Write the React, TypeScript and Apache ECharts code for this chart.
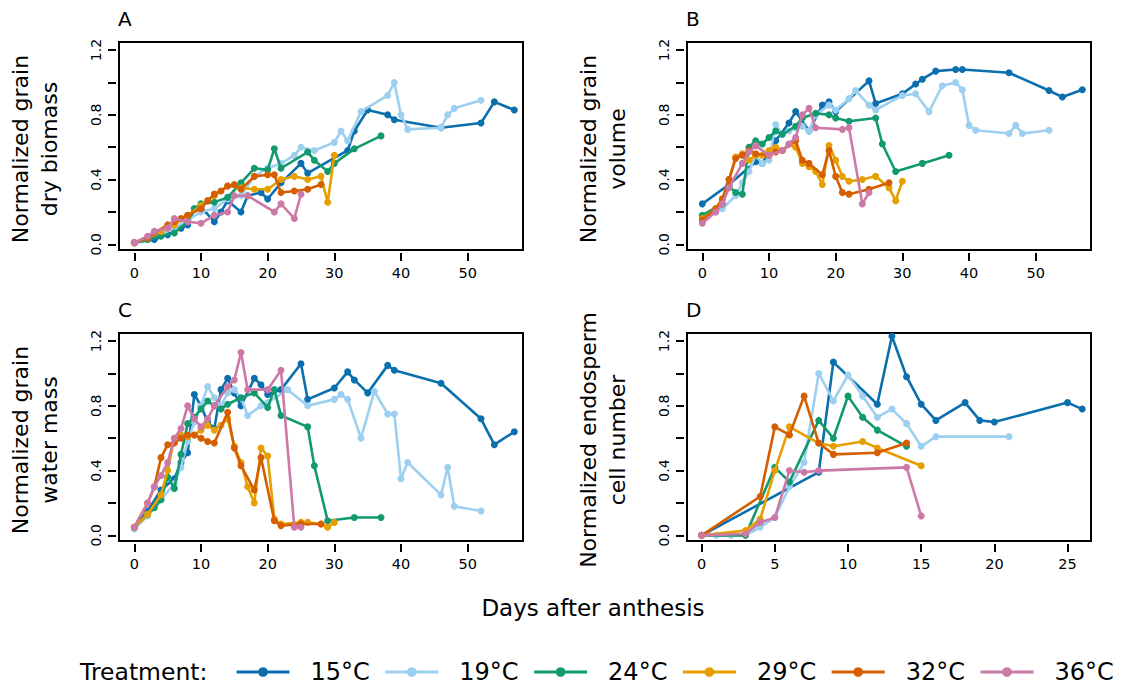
import React, { useEffect, useRef } from "react";
import * as echarts from "echarts";

const FONT = "DejaVu Sans";
const treatments = ["15°C", "19°C", "24°C", "29°C", "32°C", "36°C"];
const colors = ["#0B6FAE", "#9DCFF1", "#129A6E", "#E69F00", "#D55E00", "#CC79A7"];

const panelLetters = ["A", "B", "C", "D"];
const yTitles = [
  ["Normalized grain", "dry biomass"],
  ["Normalized grain", "volume"],
  ["Normalized grain", "water mass"],
  ["Normalized endosperm", "cell number"],
];
const xTitle = "Days after anthesis";
const legendTitle = "Treatment:";

const xTicksLong = [0, 10, 20, 30, 40, 50];
const xTicksShort = [0, 5, 10, 15, 20, 25];
const yTicks = [0, 0.2, 0.4, 0.6, 0.8, 1.0, 1.2];
const yLabels = [0, 0.4, 0.8, 1.2];

// Panel A: dry biomass
const a15 = [[0,0.01],[3,0.03],[5,0.06],[7,0.1],[8,0.12],[9,0.22],[10,0.23],[12,0.14],[13,0.2],[14,0.27],[16,0.2],[17,0.3],[19,0.32],[20,0.28],[22,0.38],[25,0.5],[26,0.44],[32,0.58],[33,0.7],[35,0.83],[38,0.8],[39,0.77],[46,0.72],[52,0.75],[54,0.88],[57,0.83]];
const a19 = [[0,0.01],[2,0.03],[4,0.06],[6,0.1],[8,0.15],[10,0.2],[12,0.22],[14,0.28],[16,0.3],[18,0.42],[20,0.47],[22,0.5],[24,0.55],[25,0.6],[27,0.58],[30,0.63],[31,0.7],[32,0.64],[34,0.82],[38,0.92],[39,1.0],[40,0.8],[41,0.71],[46,0.72],[47,0.8],[48,0.84],[52,0.89]];
const a24 = [[0,0.01],[2,0.03],[4,0.05],[6,0.07],[8,0.14],[9,0.22],[10,0.25],[12,0.26],[14,0.29],[16,0.38],[18,0.47],[20,0.46],[21,0.59],[22,0.47],[26,0.57],[27,0.52],[29,0.45],[30,0.5],[33,0.59],[37,0.67]];
const a29 = [[0,0.01],[2,0.04],[4,0.08],[6,0.12],[8,0.18],[10,0.24],[12,0.3],[14,0.36],[16,0.35],[18,0.34],[20,0.34],[22,0.4],[24,0.42],[26,0.4],[28,0.42],[29,0.26],[30,0.55]];
const a32 = [[0,0.01],[2,0.04],[3,0.07],[5,0.12],[6,0.14],[7,0.16],[8,0.18],[10,0.22],[11,0.27],[12,0.31],[13,0.33],[14,0.36],[15,0.37],[16,0.34],[18,0.42],[20,0.43],[21,0.43],[22,0.32],[24,0.33],[26,0.34],[28,0.37]];
const a36 = [[0,0.01],[2,0.05],[3,0.08],[5,0.1],[6,0.16],[8,0.14],[10,0.13],[12,0.18],[14,0.2],[15,0.3],[17,0.3],[21,0.2],[22,0.25],[24,0.16],[25,0.31]];

// Panel B: volume
const b15 = [[0,0.25],[4,0.37],[8,0.51],[9,0.5],[11,0.64],[13,0.75],[14,0.82],[16,0.7],[18,0.86],[19,0.88],[20,0.82],[25,1.01],[26,0.87],[30,0.93],[32,0.99],[33,1.02],[35,1.07],[38,1.08],[39,1.08],[46,1.06],[52,0.95],[54,0.91],[57,0.955]];
const b19 = [[0,0.17],[2,0.2],[3,0.22],[5,0.3],[6,0.38],[7,0.45],[8,0.55],[9,0.5],[10,0.52],[11,0.74],[12,0.68],[13,0.7],[14,0.72],[15,0.73],[16,0.7],[17,0.8],[19,0.86],[20,0.83],[22,0.9],[23,0.95],[25,0.86],[26,0.83],[30,0.92],[32,0.93],[34,0.82],[36,0.98],[38,1.0],[39,0.955],[40,0.735],[41,0.705],[46,0.685],[47,0.735],[48,0.685],[52,0.705]];
const b24 = [[0,0.18],[3,0.25],[4,0.36],[5,0.32],[6,0.31],[7,0.6],[8,0.64],[9,0.62],[10,0.66],[11,0.7],[12,0.68],[14,0.73],[15,0.78],[17,0.81],[19,0.8],[20,0.78],[22,0.76],[26,0.78],[27,0.62],[29,0.45],[33,0.5],[37,0.55]];
const b29 = [[0,0.16],[2,0.22],[3,0.28],[4,0.4],[5,0.54],[6,0.56],[7,0.52],[8,0.55],[9,0.55],[10,0.58],[11,0.6],[12,0.58],[13,0.62],[14,0.6],[15,0.5],[16,0.48],[17,0.45],[18,0.37],[19,0.61],[20,0.52],[21,0.42],[22,0.39],[24,0.4],[26,0.42],[28,0.35],[29,0.27],[30,0.39]];
const b32 = [[0,0.15],[2,0.22],[3,0.28],[4,0.4],[5,0.53],[6,0.55],[7,0.58],[8,0.56],[10,0.55],[11,0.57],[12,0.58],[14,0.64],[15,0.52],[16,0.5],[18,0.43],[19,0.58],[20,0.42],[21,0.32],[22,0.31],[25,0.34],[28,0.38]];
const b36 = [[0,0.13],[2,0.2],[3,0.25],[4,0.35],[6,0.5],[7,0.57],[8,0.61],[10,0.55],[12,0.58],[13,0.62],[14,0.66],[15,0.8],[16,0.84],[17,0.72],[21,0.71],[22,0.72],[24,0.25],[25,0.32]];

// Panel C: water mass
const c15 = [[0,0.05],[2,0.15],[4,0.28],[6,0.35],[7,0.45],[8,0.51],[9,0.87],[10,0.8],[11,0.7],[12,0.66],[13,0.9],[14,0.97],[15,0.88],[16,0.8],[18,0.97],[19,0.93],[20,0.87],[22,0.9],[25,1.06],[26,0.84],[30,0.91],[32,1.01],[33,0.96],[35,0.88],[38,1.05],[39,1.02],[46,0.94],[52,0.72],[54,0.56],[57,0.64]];
const c19 = [[0,0.04],[2,0.12],[4,0.22],[6,0.32],[7,0.42],[8,0.58],[9,0.7],[10,0.8],[11,0.92],[12,0.85],[13,0.8],[14,0.88],[15,0.9],[16,0.85],[17,0.74],[19,0.8],[20,0.82],[23,0.9],[26,0.8],[30,0.84],[31,0.87],[32,0.84],[34,0.6],[36,0.89],[38,0.75],[39,0.75],[40,0.35],[41,0.45],[46,0.25],[47,0.42],[48,0.18],[52,0.15]];
const c24 = [[0,0.05],[2,0.13],[3,0.17],[4,0.22],[5,0.36],[6,0.29],[7,0.5],[8,0.69],[9,0.73],[10,0.78],[11,0.83],[12,0.8],[13,0.78],[14,0.81],[16,0.85],[18,0.88],[20,0.79],[21,0.9],[22,0.74],[26,0.67],[27,0.43],[29,0.09],[33,0.11],[37,0.11]];
const c29 = [[0,0.05],[2,0.13],[4,0.25],[5,0.4],[6,0.6],[7,0.62],[8,0.61],[9,0.62],[10,0.65],[11,0.68],[12,0.65],[13,0.68],[14,0.72],[15,0.55],[16,0.45],[17,0.3],[18,0.2],[19,0.54],[20,0.49],[21,0.1],[22,0.07],[25,0.08],[26,0.08],[28,0.07],[29,0.05],[30,0.08]];
const c32 = [[0,0.05],[2,0.2],[3,0.3],[4,0.48],[5,0.56],[6,0.57],[7,0.6],[8,0.62],[9,0.62],[10,0.6],[11,0.58],[12,0.57],[14,0.76],[15,0.54],[16,0.43],[18,0.28],[19,0.48],[21,0.09],[22,0.06],[25,0.07],[28,0.07]];
const c36 = [[0,0.05],[2,0.2],[3,0.3],[4,0.37],[5,0.45],[6,0.6],[7,0.66],[8,0.8],[9,0.72],[10,0.67],[11,0.72],[12,0.8],[14,0.92],[15,0.96],[16,1.13],[17,0.9],[20,0.9],[22,1.02],[24,0.05],[25,0.05]];

// Panel D: endosperm cell number
const d15 = [[0,0],[8,0.39],[9,1.07],[12,0.81],[13,1.23],[14,0.98],[15,0.81],[16,0.71],[18,0.82],[19,0.71],[20,0.7],[25,0.82],[26,0.78]];
const d19 = [[0,0],[1,0],[2,0],[3,0],[4,0.05],[5,0.11],[6,0.3],[7,0.45],[8,1.0],[9,0.83],[10,0.99],[11,0.86],[12,0.73],[13,0.78],[14,0.69],[15,0.55],[16,0.61],[21,0.61]];
const d24 = [[0,0],[3,0],[5,0.42],[6,0.33],[8,0.71],[9,0.6],[10,0.86],[11,0.73],[12,0.65],[14,0.55]];
const d29 = [[0,0],[3,0.03],[4,0.1],[5,0.4],[6,0.67],[8,0.57],[9,0.55],[11,0.58],[12,0.54],[15,0.43]];
const d32 = [[0,0],[4,0.24],[5,0.67],[6,0.62],[7,0.86],[8,0.57],[9,0.5],[12,0.51],[14,0.57]];
const d36 = [[0,0],[3,0.01],[4,0.08],[5,0.11],[6,0.4],[7,0.39],[8,0.4],[14,0.42],[15,0.12]];

const panelData = [
  [a15, a19, a24, a29, a32, a36],
  [b15, b19, b24, b29, b32, b36],
  [c15, c19, c24, c29, c32, c36],
  [d15, d19, d24, d29, d32, d36],
];

export default function App() {
  const ref = useRef<HTMLDivElement>(null);
  useEffect(() => {
    if (!ref.current) return;
    const chart = echarts.init(ref.current, null, { renderer: "svg" });

    const gridPos = [
      [119, 42],
      [687, 42],
      [119, 333],
      [687, 333],
    ];
    const grids = gridPos.map(([l, t]) => ({
      left: l,
      top: t,
      width: 404,
      height: 208,
      show: true,
      borderColor: "#000",
      borderWidth: 2,
      backgroundColor: "transparent",
    }));

    const xAxes = grids.map((_, i) => {
      const ticks = i === 3 ? xTicksShort : xTicksLong;
      return {
        type: "value",
        gridIndex: i,
        position: "bottom",
        min: i === 3 ? -1.0 : -2.3,
        max: i === 3 ? 26.6 : 58.3,
        offset: 3,
        axisLine: { show: false, onZero: false },
        axisTick: { show: true, inside: false, length: 8, lineStyle: { color: "#000", width: 2 }, customValues: ticks },
        axisLabel: { customValues: ticks, margin: 12, fontSize: 14.5, fontFamily: FONT, color: "#000" },
        splitLine: { show: false },
      };
    });

    const yAxes = grids.map((_, i) => ({
      type: "value",
      gridIndex: i,
      position: "left",
      min: -0.035,
      max: 1.25,
      offset: 3,
      axisLine: { show: false, onZero: false },
      axisTick: { show: true, inside: false, length: 8, lineStyle: { color: "#000", width: 2 }, customValues: yTicks },
      axisLabel: {
        customValues: yLabels,
        rotate: 90,
        margin: 13,
        fontSize: 14,
        fontFamily: FONT,
        color: "#000",
        formatter: (v: number) => v.toFixed(1),
      },
      splitLine: { show: false },
    }));

    const series: any[] = [];
    panelData.forEach((sets, p) => {
      sets.forEach((data, t) => {
        series.push({
          type: "line",
          name: treatments[t],
          xAxisIndex: p,
          yAxisIndex: p,
          data,
          symbol: "circle",
          symbolSize: 7,
          showSymbol: true,
          lineStyle: { width: 2.6, color: colors[t] },
          itemStyle: { color: colors[t] },
          z: 2 + t,
        });
      });
    });

    const graphics: any[] = [];
    gridPos.forEach(([gx, gy], i) => {
      graphics.push({
        type: "text",
        left: gx - 1,
        top: gy - 33,
        style: { text: panelLetters[i], font: `20px '${FONT}'`, fill: "#000" },
      });
      const cy = gy + 104 + 3;
      const lineX = [gx - 98.5, gx - 70];
      yTitles[i].forEach((txt, k) => {
        graphics.push({
          type: "text",
          x: lineX[k],
          y: cy,
          rotation: Math.PI / 2,
          style: {
            text: txt,
            font: `22px '${FONT}'`,
            fill: "#000",
            align: "center",
            verticalAlign: "middle",
          },
        });
      });
    });
    graphics.push({
      type: "text",
      x: 593,
      y: 608,
      style: { text: xTitle, font: `23px '${FONT}'`, fill: "#000", align: "center", verticalAlign: "middle" },
    });
    graphics.push({
      type: "text",
      x: 80,
      y: 672,
      style: { text: legendTitle, font: `23.5px '${FONT}'`, fill: "#000", align: "left", verticalAlign: "middle" },
    });

    chart.setOption({
      animation: false,
      backgroundColor: "#fff",
      grid: grids,
      xAxis: xAxes,
      yAxis: yAxes,
      series,
      legend: {
        data: treatments,
        left: 235,
        top: 660,
        width: 885,
        padding: 0,
        itemWidth: 53,
        itemHeight: 12,
        itemGap: 14,
        lineStyle: { width: 3 },
        textStyle: { fontFamily: FONT, fontSize: 24, color: "#000", padding: [0, 0, 0, 16] },
        selectedMode: false,
      },
      graphic: graphics,
    });
    return () => chart.dispose();
  }, []);
  return (
    <div
      ref={ref}
      style={{ position: "fixed", left: 0, top: 0, width: 1124, height: 691, background: "#fff" }}
    />
  );
}
